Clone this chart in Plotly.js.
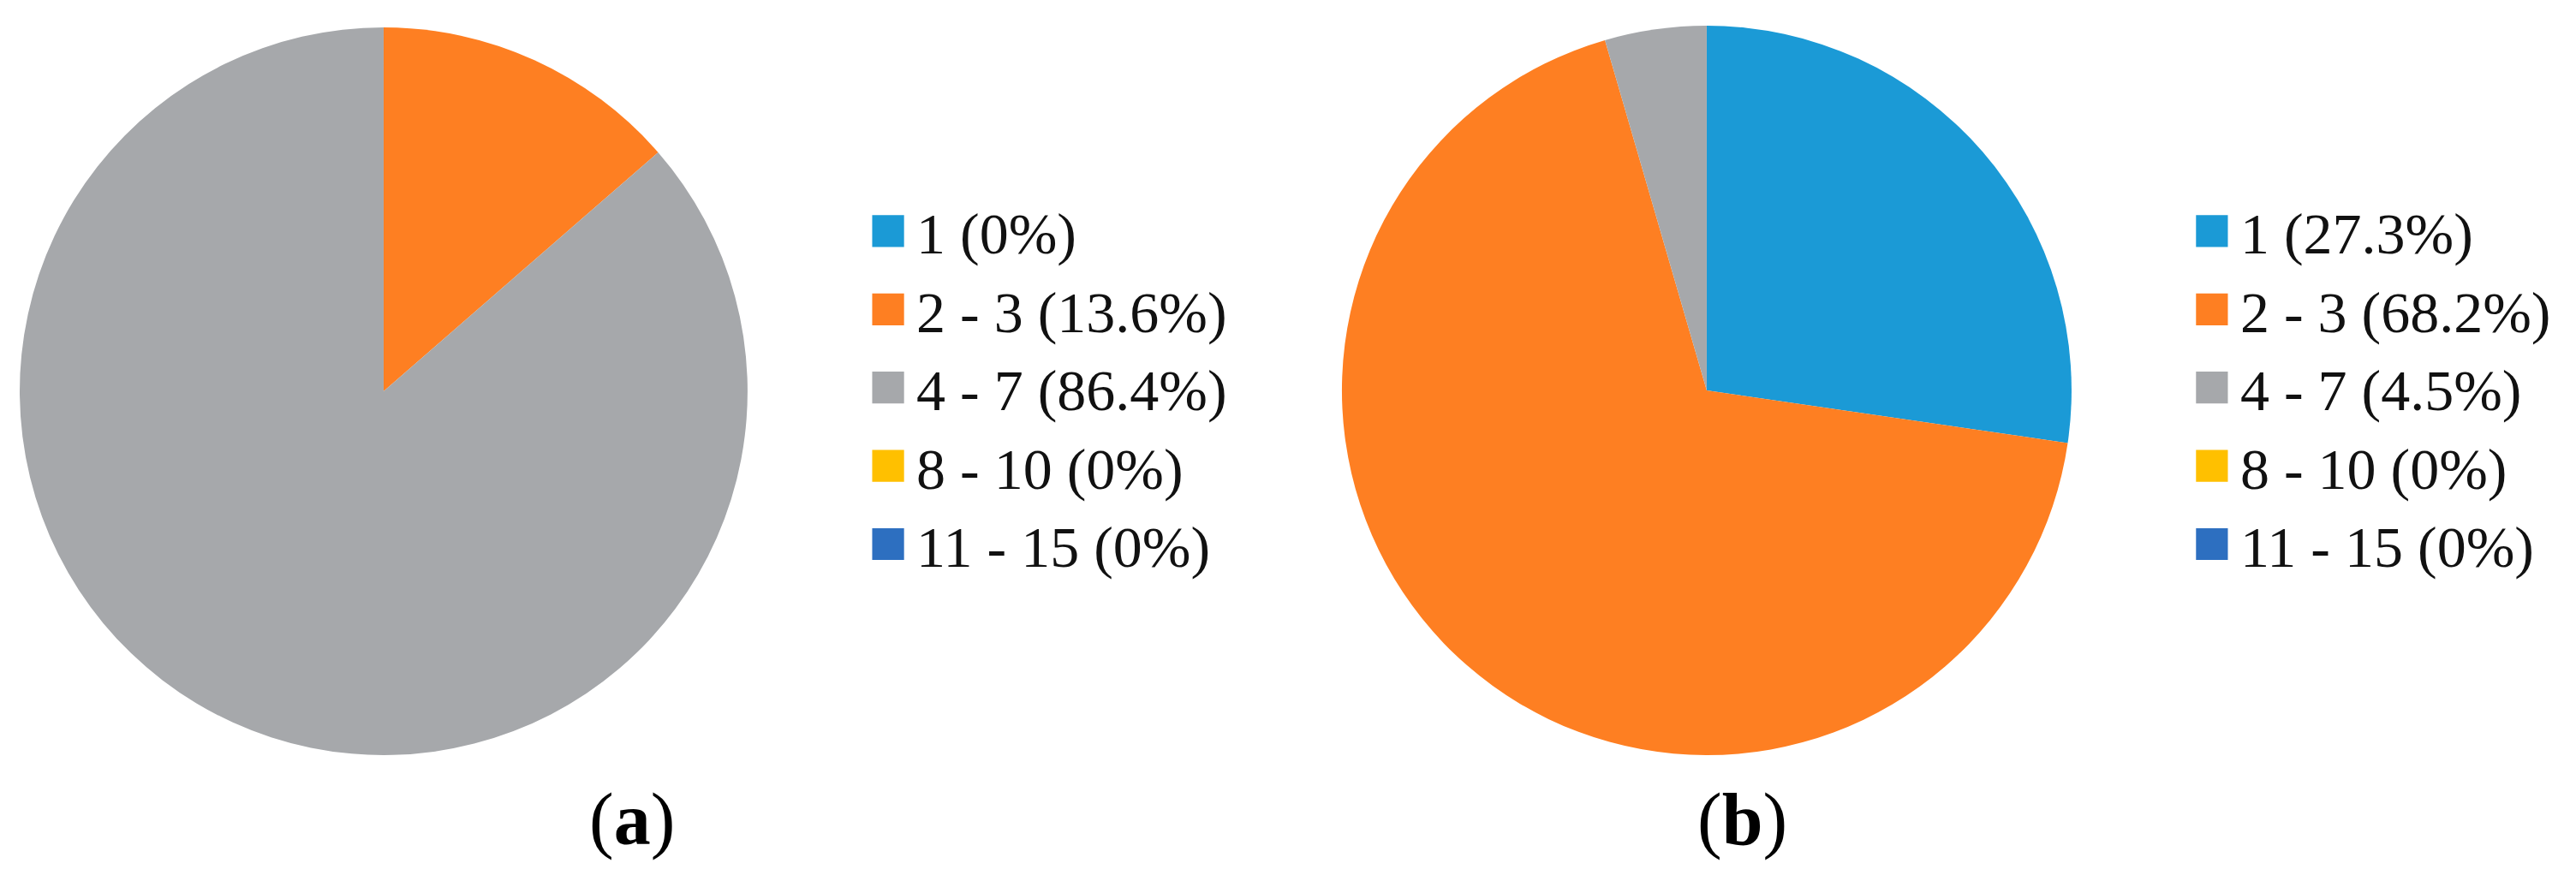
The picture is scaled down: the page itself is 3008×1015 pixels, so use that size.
<!DOCTYPE html>
<html>
<head>
<meta charset="utf-8">
<script src="https://cdn.plot.ly/plotly-3.0.1.min.js"></script>
<style>
  html, body { margin: 0; padding: 0; background: #ffffff; }
  #chart { width: 3008px; height: 1015px; }
</style>
</head>
<body>
<div id="chart"></div>
<script>
// Categories (number ranges) and colours
const categories = ["1", "2 - 3", "4 - 7", "8 - 10", "11 - 15"];
const sliceColors = ["#1b9ad6", "#fe7f22", "#a6a8ab", "#ffc000", "#2d6fc0"];

// Percentages read from the legends
const valuesA = [0, 13.6, 86.4, 0, 0];
const valuesB = [27.3, 68.2, 4.5, 0, 0];

// Panel labels
const panelLabels = ["a", "b"];

// suffix keeps the two pies' legend entries independent (pie labels are shared by name)
function legendLabels(vals, suffix) {
  return categories.map((c, i) => c + " (" + vals[i] + "%)" + suffix);
}

const legendFont = { family: "Liberation Serif, Times New Roman, serif", size: 68, color: "#111111" };

const traceA = {
  type: "pie",
  labels: legendLabels(valuesA, ""),
  values: valuesA,
  marker: { colors: sliceColors, line: { width: 0 } },
  sort: false,
  direction: "clockwise",
  rotation: 0,
  textinfo: "none",
  hoverinfo: "none",
  domain: { x: [0.00765, 0.2902], y: [0.131, 0.9685] },
  legend: "legend"
};

const traceB = {
  type: "pie",
  labels: legendLabels(valuesB, "\u200B"),
  values: valuesB,
  marker: { colors: sliceColors, line: { width: 0 } },
  sort: false,
  direction: "clockwise",
  rotation: 0,
  textinfo: "none",
  hoverinfo: "none",
  domain: { x: [0.5209, 0.8042], y: [0.131, 0.9704] },
  legend: "legend2"
};

const layout = {
  width: 3008,
  height: 1015,
  margin: { l: 0, r: 0, t: 0, b: 0 },
  paper_bgcolor: "#ffffff",
  plot_bgcolor: "#ffffff",
  showlegend: true,
  legend: {
    x: 0.3338, xanchor: "left", y: 0.554, yanchor: "middle",
    font: legendFont, bgcolor: "rgba(0,0,0,0)", traceorder: "normal",
    itemwidth: 56
  },
  legend2: {
    x: 0.8477, xanchor: "left", y: 0.554, yanchor: "middle",
    font: legendFont, bgcolor: "rgba(0,0,0,0)", traceorder: "normal",
    itemwidth: 56
  },
  annotations: panelLabels.map((p, i) => ({
    text: "(<b>" + p + "</b>)",
    xref: "paper", yref: "paper",
    x: [0.2453, 0.6765][i], y: 0.057,
    xanchor: "center", yanchor: "middle",
    showarrow: false,
    font: { family: "Liberation Serif, Times New Roman, serif", size: 86, color: "#000000" }
  }))
};

Plotly.newPlot("chart", [traceA, traceB], layout, { staticPlot: true, displayModeBar: false })
  .then(function (gd) {
    // Let the enlarged legend squares show fully
    gd.querySelectorAll("g.legend, g.legend2, .scrollbox").forEach(function (g) {
      g.removeAttribute("clip-path");
    });
    // Enlarge the legend squares to match the reference size (keep Plotly's own offset)
    gd.querySelectorAll("g.legendpoints path").forEach(function (p) {
      const orig = p.getAttribute("transform") || "";
      p.setAttribute("transform", orig + " scale(3.1)");
    });
  });
</script>
</body>
</html>
